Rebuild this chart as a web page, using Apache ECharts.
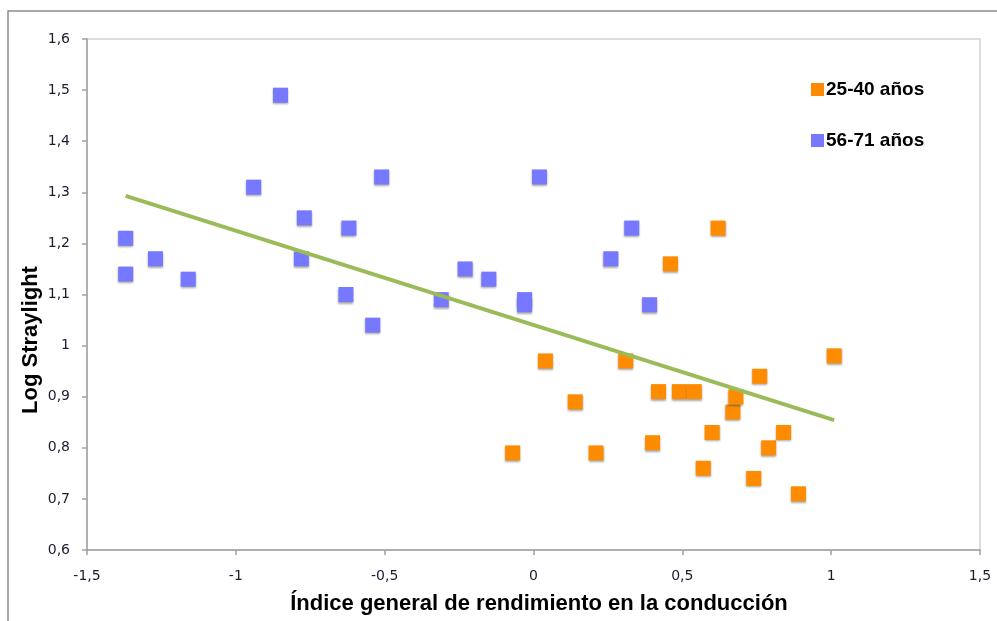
<!DOCTYPE html>
<html>
<head>
<meta charset="utf-8">
<script src="https://cdn.jsdelivr.net/npm/echarts@6/dist/echarts.min.js"></script>
<style>
  html, body { margin: 0; padding: 0; background: #fff; }
  #chart { width: 997px; height: 621px; }
</style>
</head>
<body>
<div id="chart"></div>
<script>
// 25-40 años
const youngX = [-0.07, 0.04, 0.14, 0.21, 0.31, 0.40, 0.42, 0.46, 0.49, 0.54, 0.57, 0.60, 0.62, 0.67, 0.68, 0.74, 0.76, 0.79, 0.84, 0.89, 1.01]
const youngY = [0.79, 0.97, 0.89, 0.79, 0.97, 0.81, 0.91, 1.16, 0.91, 0.91, 0.76, 0.83, 1.23, 0.87, 0.90, 0.74, 0.94, 0.80, 0.83, 0.71, 0.98]

// 56-71 años
const olderX = [-1.37, -1.37, -1.27, -1.16, -0.94, -0.85, -0.77, -0.78, -0.62, -0.63, -0.51, -0.54, -0.31, -0.23, -0.15, -0.03, -0.03, 0.02, 0.26, 0.33, 0.39]
const olderY = [1.21, 1.14, 1.17, 1.13, 1.31, 1.49, 1.25, 1.17, 1.23, 1.10, 1.33, 1.04, 1.09, 1.15, 1.13, 1.09, 1.08, 1.33, 1.17, 1.23, 1.08]

// linear trend line end points
const trendX = [-1.37, 1.01]
const trendY = [1.293, 0.854]

const seriesNames = ['25-40 años', '56-71 años']
const xTitle = 'Índice general de rendimiento en la conducción'
const yTitle = 'Log Straylight'

const zip = (xs, ys) => xs.map((x, i) => [x, ys[i]])
const fmt = (v) => String(+v.toFixed(1)).replace('.', ',')

const chart = echarts.init(document.getElementById('chart'))

const markerStyle = (color) => ({
  color: color,
  opacity: 1,
  shadowColor: 'rgba(0,0,0,0.35)',
  shadowBlur: 2,
  shadowOffsetX: 0,
  shadowOffsetY: 1.5
})

chart.setOption({
  backgroundColor: '#fff',
  animation: false,
  textStyle: { fontFamily: 'DejaVu Sans' },
  graphic: [
    {
      type: 'rect',
      shape: { x: 8, y: 11, width: 1100, height: 800 },
      style: { fill: 'none', stroke: '#8c8c8c', lineWidth: 1.5 },
      z: -1
    },
    {
      type: 'text',
      x: 31, y: 340,
      rotation: Math.PI / 2,
      style: {
        text: yTitle,
        font: 'bold 22px "Liberation Sans"',
        fill: '#000',
        align: 'center',
        verticalAlign: 'middle'
      }
    },
    {
      type: 'text',
      x: 539, y: 604,
      style: {
        text: xTitle,
        font: 'bold 22px "Liberation Sans"',
        fill: '#000',
        align: 'center',
        verticalAlign: 'middle'
      }
    }
  ],
  grid: {
    left: 87,
    right: 17,
    top: 39,
    bottom: 71,
    show: true,
    borderColor: '#d2d2d2',
    borderWidth: 1.5
  },
  legend: {
    orient: 'vertical',
    left: 806,
    top: 75,
    itemWidth: 13,
    itemHeight: 13,
    itemGap: 32,
    icon: 'rect',
    data: seriesNames,
    textStyle: {
      fontFamily: 'Liberation Sans',
      fontWeight: 'bold',
      fontSize: 19,
      color: '#000',
      padding: [0, 0, 0, -3]
    }
  },
  xAxis: {
    type: 'value',
    min: -1.5,
    max: 1.5,
    interval: 0.5,
    axisLine: { onZero: false, lineStyle: { color: '#a0a0a0', width: 1.5 } },
    axisTick: { show: true, length: 5, lineStyle: { color: '#a0a0a0', width: 1.5 } },
    axisLabel: { color: '#1c1c30', fontSize: 14, margin: 19, formatter: fmt },
    splitLine: { show: false }
  },
  yAxis: {
    type: 'value',
    min: 0.6,
    max: 1.6,
    interval: 0.1,
    axisLine: { show: true, onZero: false, lineStyle: { color: '#a0a0a0', width: 1.5 } },
    axisTick: { show: true, length: 5, lineStyle: { color: '#a0a0a0', width: 1.5 } },
    axisLabel: { color: '#1c1c30', fontSize: 14, margin: 17, formatter: fmt },
    splitLine: { show: false }
  },
  series: [
    {
      name: seriesNames[0],
      type: 'scatter',
      symbol: 'rect',
      symbolSize: 15,
      itemStyle: markerStyle('#ff8c00'),
      data: zip(youngX, youngY),
      z: 3
    },
    {
      name: seriesNames[1],
      type: 'scatter',
      symbol: 'rect',
      symbolSize: 15,
      itemStyle: markerStyle('#7678ff'),
      data: zip(olderX, olderY),
      z: 3
    },
    {
      name: 'Lineal',
      type: 'line',
      showSymbol: false,
      symbol: 'none',
      lineStyle: { color: '#9bbb59', width: 4 },
      data: zip(trendX, trendY),
      z: 4
    }
  ]
})
</script>
</body>
</html>
